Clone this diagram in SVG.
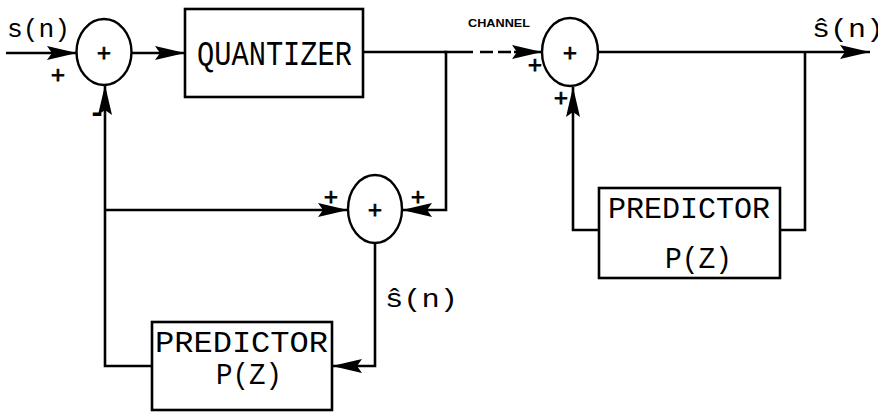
<svg xmlns="http://www.w3.org/2000/svg" width="878" height="414" viewBox="0 0 878 414">
<defs>
<marker id="ah" markerUnits="userSpaceOnUse" markerWidth="32" markerHeight="16" refX="30" refY="8" orient="auto">
<path d="M0,1 L30,8 L0,15 L5,8 z" fill="#000"/>
</marker>
<style>
.ln{fill:none;stroke:#000;stroke-width:2.6}
.bx{fill:#fff;stroke:#000;stroke-width:2.6}
.sm{fill:#fff;stroke:#000;stroke-width:2.4}
.t{font-family:"Liberation Mono","DejaVu Sans Mono",monospace;fill:#000}
.big{font-size:35px}
.mid{font-size:30px}
.lab{font-size:25px}
.pl{font-size:24px;text-anchor:middle;stroke:#000;stroke-width:0.8}
.ch{font-family:"Liberation Sans","DejaVu Sans",sans-serif;font-size:11px;font-weight:bold;fill:#000}
</style>
</defs>
<rect width="878" height="414" fill="#fff"/>
<g id="connectors">
<line class="ln" x1="6" y1="53" x2="77" y2="53" marker-end="url(#ah)"/>
<line class="ln" x1="132" y1="53" x2="185" y2="53" marker-end="url(#ah)"/>
<line class="ln" x1="363" y1="52" x2="473" y2="52"/>
<line class="ln" x1="480" y1="52" x2="511" y2="52" stroke-dasharray="13,5"/>
<line class="ln" x1="514" y1="52" x2="542" y2="52" marker-end="url(#ah)"/>
<polyline class="ln" points="444,52 446,52 446,210 402,210" marker-end="url(#ah)"/>
<polyline class="ln" points="152,366 105,366 105,85" marker-end="url(#ah)"/>
<line class="ln" x1="105" y1="210" x2="348" y2="210" marker-end="url(#ah)"/>
<polyline class="ln" points="375,243 375,366 332,366" marker-end="url(#ah)"/>
<line class="ln" x1="598" y1="52" x2="870" y2="52" marker-end="url(#ah)"/>
<polyline class="ln" points="805,52 805,230 780,230"/>
<polyline class="ln" points="599,230 573,230 573,87" marker-end="url(#ah)"/>
</g>
<g id="sum1">
<ellipse class="sm" cx="104" cy="52" rx="27.5" ry="33"/>
<text class="t pl" x="104" y="61">+</text>
</g>
<g id="quantizer">
<rect class="bx" x="185" y="9" width="178" height="88"/>
<text class="t big" x="197" y="65" textLength="155" lengthAdjust="spacingAndGlyphs">QUANTIZER</text>
</g>
<g id="sum2">
<ellipse class="sm" cx="570" cy="52" rx="28" ry="34"/>
<text class="t pl" x="570" y="61">+</text>
</g>
<g id="sum3">
<ellipse class="sm" cx="375" cy="209" rx="27" ry="34"/>
<text class="t pl" x="375" y="218">+</text>
</g>
<g id="predictor1">
<rect class="bx" x="152" y="322" width="180" height="88"/>
<text class="t mid" x="155" y="352" textLength="173" lengthAdjust="spacingAndGlyphs">PREDICTOR</text>
<text class="t mid" x="216" y="384" textLength="66" lengthAdjust="spacingAndGlyphs">P(Z)</text>
</g>
<g id="predictor2">
<rect class="bx" x="599" y="188" width="181" height="90"/>
<text class="t mid" x="608" y="218" textLength="162" lengthAdjust="spacingAndGlyphs">PREDICTOR</text>
<text class="t mid" x="665" y="268" textLength="67" lengthAdjust="spacingAndGlyphs">P(Z)</text>
</g>
<g id="labels">
<text class="t lab" x="7" y="37" textLength="63" lengthAdjust="spacingAndGlyphs">s(n)</text>
<text class="t pl" x="58" y="83">+</text>
<text class="t" x="97" y="122" style="font-size:30px;font-weight:bold;text-anchor:middle">-</text>
<text class="ch" x="468" y="27" textLength="62" lengthAdjust="spacingAndGlyphs">CHANNEL</text>
<text class="t pl" x="535" y="73">+</text>
<text class="t pl" x="561" y="106">+</text>
<text class="t pl" x="331" y="205">+</text>
<text class="t pl" x="418" y="205">+</text>
<text class="t lab" x="385" y="307" textLength="73" lengthAdjust="spacingAndGlyphs">ŝ(n)</text>
<text class="t lab" x="812" y="37" textLength="72" lengthAdjust="spacingAndGlyphs">ŝ(n)</text>
</g>
</svg>
